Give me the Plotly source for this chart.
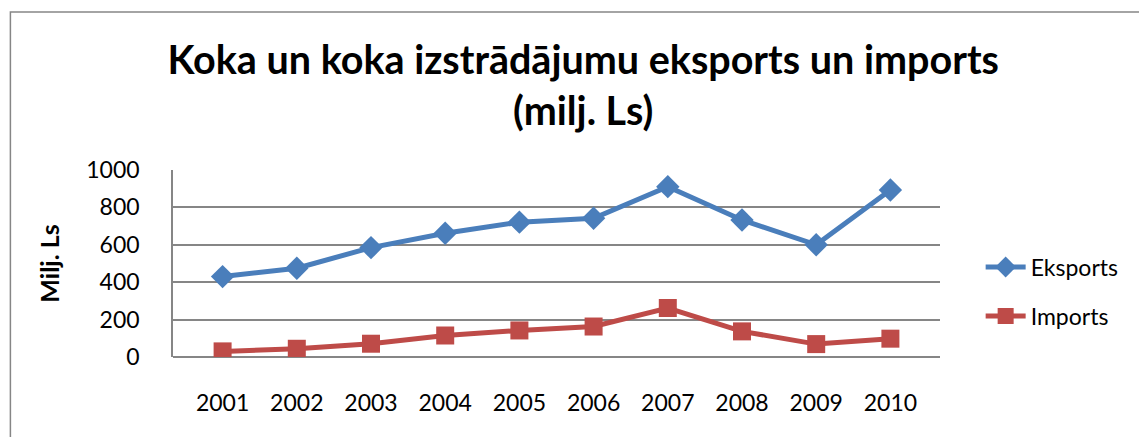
import plotly.graph_objects as go

# Dati
years = ['2001', '2002', '2003', '2004', '2005', '2006', '2007', '2008', '2009', '2010']
eksports = [430, 475, 585, 662, 721, 742, 911, 733, 600, 893]
imports = [30, 44, 71, 115, 142, 163, 262, 137, 69, 98]

fig = go.Figure()

fig.add_trace(go.Scatter(
    x=years, y=eksports, name='Eksports',
    mode='lines+markers', legendgroup='e',
    line=dict(color='#4A7EBB', width=5),
    marker=dict(symbol='diamond', size=18, color='#4A7EBB')
))

fig.add_trace(go.Scatter(
    x=years, y=imports, name='Imports',
    mode='lines+markers', legendgroup='i',
    line=dict(color='#BE4B48', width=5),
    marker=dict(symbol='square', size=18, color='#BE4B48')
))

# outer chart border
fig.add_shape(
    type='rect', xref='paper', yref='paper',
    x0=-0.212, x1=1.4, y0=-0.7, y1=1.845,
    line=dict(color='#868686', width=1.5)
)

fig.update_layout(
    width=1139,
    height=429,
    margin=dict(l=165, r=207, t=162, b=80),
    title=dict(
        text='Koka un koka izstrādājumu eksports un imports<br>(milj. Ls)',
        x=0.505, xanchor='center',
        y=0.846, yanchor='middle',
        font=dict(family='Lato', size=39.5, color='black', weight='bold')
    ),
    font=dict(family='Lato', size=23, color='black'),
    paper_bgcolor='white',
    plot_bgcolor='white',
    showlegend=True,
    legend=dict(
        x=1.053, xanchor='left',
        y=0.35, yanchor='middle',
        font=dict(size=23),
        tracegroupgap=16,
        itemwidth=40
    ),
    xaxis=dict(
        showgrid=False,
        showline=False,
        ticks='',
        ticklabelstandoff=30,
        tickfont=dict(size=23)
    ),
    yaxis=dict(
        range=[0, 1000],
        tickvals=[0, 200, 400, 600, 800, 1000],
        showgrid=True,
        gridcolor='#868686',
        gridwidth=1.5,
        showline=True,
        linecolor='#868686',
        linewidth=1.5,
        zeroline=True,
        zerolinecolor='#868686',
        zerolinewidth=1.5,
        ticks='',
        ticklabelstandoff=27,
        tickfont=dict(size=23),
        title=dict(text='<b>Milj. Ls</b>', font=dict(size=25), standoff=20)
    )
)

fig.write_html('out.html')
